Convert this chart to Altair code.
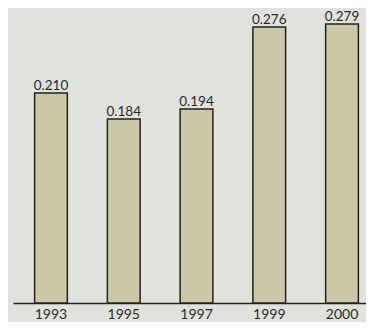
import altair as alt
import pandas as pd

years = ["1993", "1995", "1997", "1999", "2000"]
values = [0.210, 0.184, 0.194, 0.276, 0.279]
labels = ["0.210", "0.184", "0.194", "0.276", "0.279"]

df = pd.DataFrame({"year": years, "value": values, "label": labels})

FONT = "Lato"

x_scale = alt.Scale(paddingInner=0.55, paddingOuter=0.297, range=[0, 367])

x_enc = alt.X(
    "year:N",
    sort=years,
    scale=x_scale,
    axis=alt.Axis(
        title=None,
        labelAngle=0,
        ticks=False,
        domainColor="#222222",
        domainWidth=1.5,
        labelFontSize=14,
        labelFont=FONT,
        labelColor="#2a2a2a",
        labelPadding=4,
    ),
)
y_enc = alt.Y("value:Q", scale=alt.Scale(domain=[0, 0.293], nice=False, zero=True), axis=None)

bars = alt.Chart(df).mark_bar(
    fill="#cac8a6", stroke="#222222", strokeWidth=1.5
).encode(x=x_enc, y=y_enc)

text = alt.Chart(df).mark_text(
    baseline="alphabetic", dy=-3.5, fontSize=13.5, font=FONT, color="#2a2a2a"
).encode(x=alt.X("year:N", sort=years), y=y_enc, text="label:N")

chart = (
    alt.layer(bars, text)
    .properties(
        width=353,
        height=293,
        background="#dfe3dc",
        padding={"left": 5, "top": 2, "right": 0, "bottom": 19},
        autosize=alt.AutoSizeParams(type="none"),
    )
    .configure_view(strokeWidth=0)
)

chart.save("out.html", embed_options={"renderer": "svg", "actions": False})
